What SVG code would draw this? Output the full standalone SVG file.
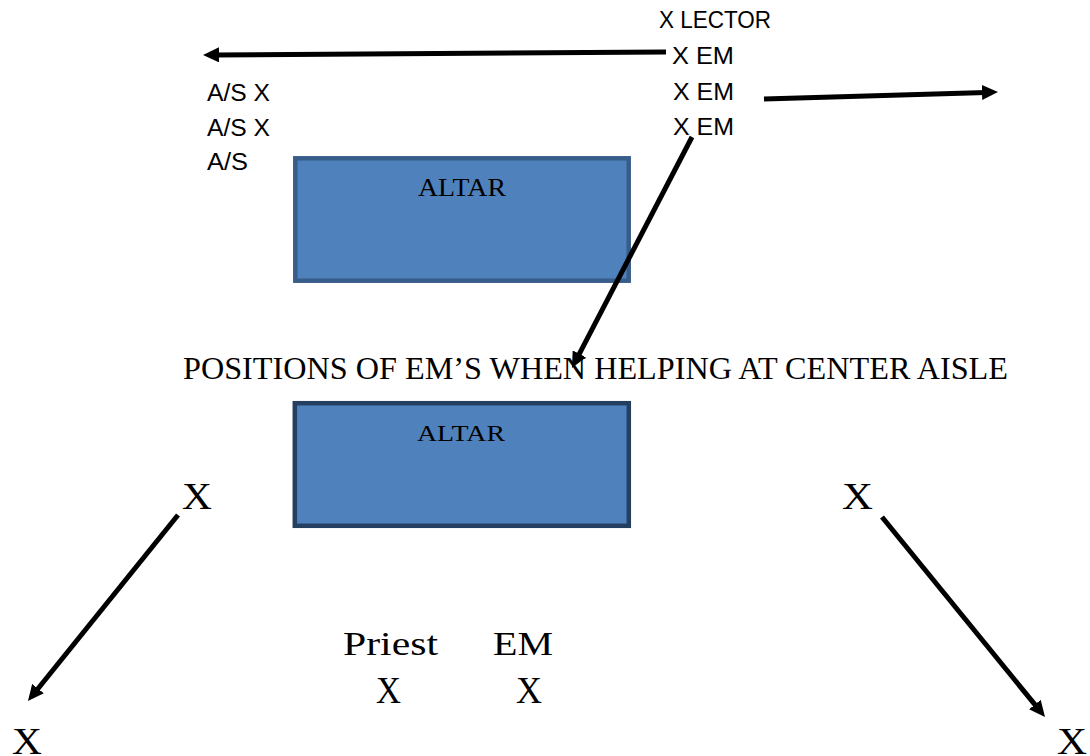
<svg xmlns="http://www.w3.org/2000/svg" width="1090" height="756" viewBox="0 0 1090 756">
  <style>
    .sans { font-family: "Liberation Sans", Arial, sans-serif; font-size: 23px; fill: #000; }
    .serif { font-family: "Liberation Serif", "Times New Roman", serif; fill: #000; }
    .conn { stroke: #000; stroke-width: 5; fill: none; marker-end: url(#ah); }
    .altar1 { fill: #4f81bd; stroke: #385d8a; stroke-width: 4.5; }
    .altar2 { fill: #4f81bd; stroke: #243f60; stroke-width: 4.5; }
  </style>
  <defs>
    <marker id="ah" markerUnits="userSpaceOnUse" markerWidth="16" markerHeight="15" refX="4" refY="7.5" orient="auto">
      <path d="M0,0 L16,7.5 L0,15 z" fill="#000"/>
    </marker>
  </defs>
  <rect width="1090" height="756" fill="#fff"/>

  <g id="top-labels">
    <text class="sans" x="659" y="28" textLength="112" lengthAdjust="spacingAndGlyphs">X LECTOR</text>
    <text class="sans" x="672" y="64" textLength="62" lengthAdjust="spacingAndGlyphs">X EM</text>
    <text class="sans" x="673" y="99.5" textLength="61" lengthAdjust="spacingAndGlyphs">X EM</text>
    <text class="sans" x="673" y="134.5" textLength="61" lengthAdjust="spacingAndGlyphs">X EM</text>
    <text class="sans" x="207" y="100.5" textLength="63" lengthAdjust="spacingAndGlyphs">A/S X</text>
    <text class="sans" x="207" y="136" textLength="63" lengthAdjust="spacingAndGlyphs">A/S X</text>
    <text class="sans" x="207" y="170" textLength="41" lengthAdjust="spacingAndGlyphs">A/S</text>
  </g>

  <g id="altar-top">
    <rect class="altar1" x="295.3" y="158.3" width="333.4" height="122.4"/>
    <text class="serif" x="418" y="196" font-size="26" textLength="88" lengthAdjust="spacingAndGlyphs">ALTAR</text>
  </g>

  <g id="heading">
    <text class="serif" x="183" y="379" font-size="31" textLength="825" lengthAdjust="spacingAndGlyphs">POSITIONS OF EM’S WHEN HELPING AT CENTER AISLE</text>
  </g>

  <g id="altar-bottom">
    <rect class="altar2" x="294.8" y="403.2" width="334" height="122.6"/>
    <text class="serif" x="417" y="441" font-size="24" textLength="88" lengthAdjust="spacingAndGlyphs">ALTAR</text>
  </g>

  <g id="x-left-top"><text class="serif" x="182" y="509" font-size="38" textLength="30" lengthAdjust="spacingAndGlyphs">X</text></g>
  <g id="x-right-top"><text class="serif" x="842" y="509" font-size="38" textLength="31" lengthAdjust="spacingAndGlyphs">X</text></g>
  <g id="x-left-bottom"><text class="serif" x="12" y="754" font-size="38" textLength="30" lengthAdjust="spacingAndGlyphs">X</text></g>
  <g id="x-right-bottom"><text class="serif" x="1057" y="754" font-size="38" textLength="30" lengthAdjust="spacingAndGlyphs">X</text></g>

  <g id="priest">
    <text class="serif" x="343" y="655" font-size="33" textLength="95" lengthAdjust="spacingAndGlyphs">Priest</text>
    <text class="serif" x="376" y="703" font-size="38" textLength="25" lengthAdjust="spacingAndGlyphs">X</text>
  </g>
  <g id="em">
    <text class="serif" x="493" y="655" font-size="33" textLength="60" lengthAdjust="spacingAndGlyphs">EM</text>
    <text class="serif" x="516" y="703" font-size="38" textLength="26" lengthAdjust="spacingAndGlyphs">X</text>
  </g>

  <g id="connectors">
    <line class="conn" x1="666" y1="52" x2="215" y2="54.9"/>
    <line class="conn" x1="764" y1="99" x2="986" y2="92.4"/>
    <line class="conn" x1="692" y1="137" x2="577.5" y2="357.4"/>
    <line class="conn" x1="178" y1="515" x2="35.5" y2="691.7"/>
    <line class="conn" x1="882" y1="517" x2="1037.4" y2="707.7"/>
  </g>
</svg>
